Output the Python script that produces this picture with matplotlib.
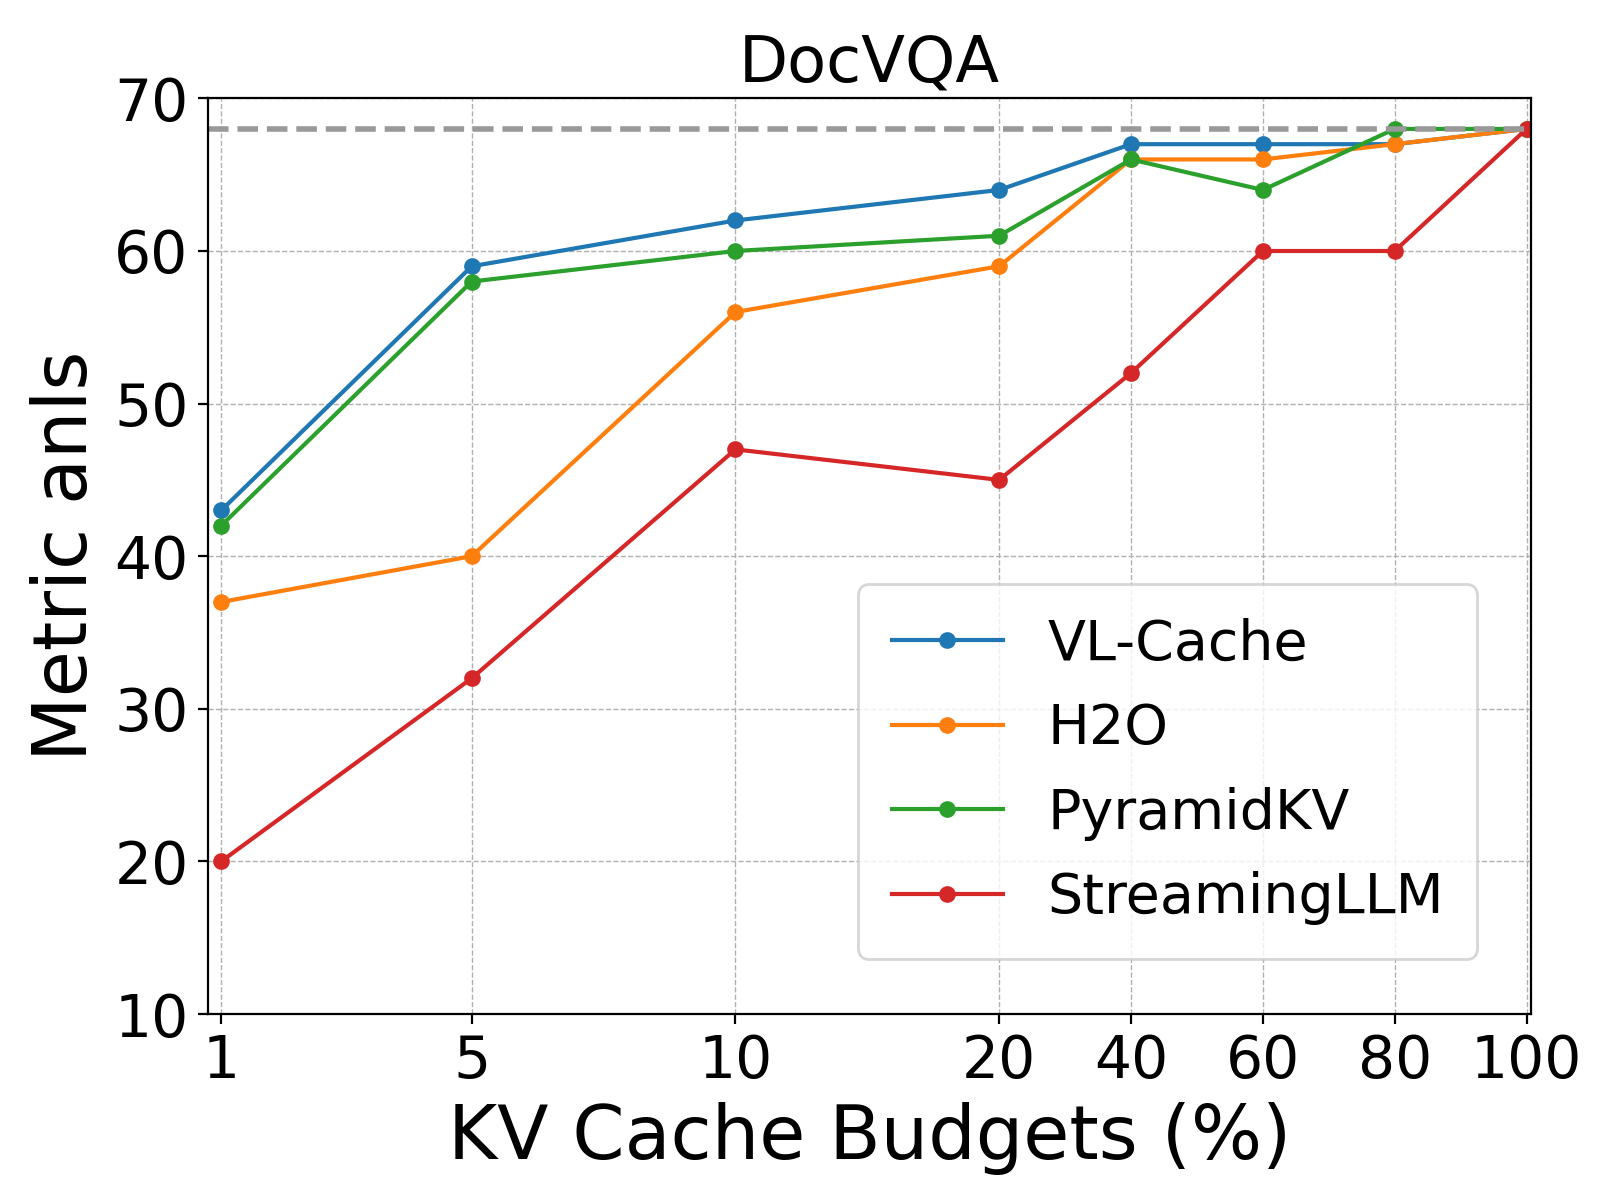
import matplotlib
matplotlib.use("Agg")
import matplotlib.pyplot as plt
import numpy as np

budgets = [1, 5, 10, 20, 40, 60, 80, 100]
vl_cache = [43, 59, 62, 64, 67, 67, 67, 68]
h2o = [37, 40, 56, 59, 66, 66, 67, 68]
pyramidkv = [42, 58, 60, 61, 66, 64, 68, 68]
streaming = [20, 32, 47, 45, 52, 60, 60, 68]
full_cache = 68

# piecewise-linear x scale reproducing the uneven tick spacing
_ref = np.array([0, 1, 5, 10, 20, 40, 60, 80, 100, 110], float)
_pos = np.array([-0.15, 0.05, 1, 2, 3, 3.5, 4, 4.5, 5, 5.25])


def fwd(x):
    return np.interp(x, _ref, _pos)


def inv(p):
    return np.interp(p, _pos, _ref)


fig, ax = plt.subplots(figsize=(8, 6), dpi=200)
fig.subplots_adjust(left=0.13, right=0.957, top=0.918, bottom=0.155)
ax.set_xscale("function", functions=(fwd, inv))

series = [("VL-Cache", vl_cache, "#1f77b4"), ("H2O", h2o, "#ff7f0e"),
          ("PyramidKV", pyramidkv, "#2ca02c"), ("StreamingLLM", streaming, "#d62728")]
for name, vals, c in series:
    ax.plot(budgets, vals, marker="o", markersize=5, linewidth=1.5, color=c, label=name)

ax.axhline(full_cache, color="#999999", linestyle="--", linewidth=2)
ax.set_xlim(inv(0.0), 100.7)
ax.set_ylim(10, 70)
ax.set_xticks(budgets)
ax.set_xticklabels([str(b) for b in budgets])
ax.xaxis.set_minor_locator(matplotlib.ticker.NullLocator())
ax.tick_params(labelsize=21)
ax.grid(True, linestyle="--", linewidth=0.5, color="#b0b0b0")
ax.set_xlabel("KV Cache Budgets (%)", fontsize=27)
ax.set_ylabel("Metric anls", fontsize=27)
ax.set_title("DocVQA", fontsize=23)
ax.legend(loc="lower right", fontsize=20, borderpad=0.6, labelspacing=0.55,
          handlelength=2.0, bbox_to_anchor=(0.98, 0.03))

fig.savefig("out.png", dpi=200)
